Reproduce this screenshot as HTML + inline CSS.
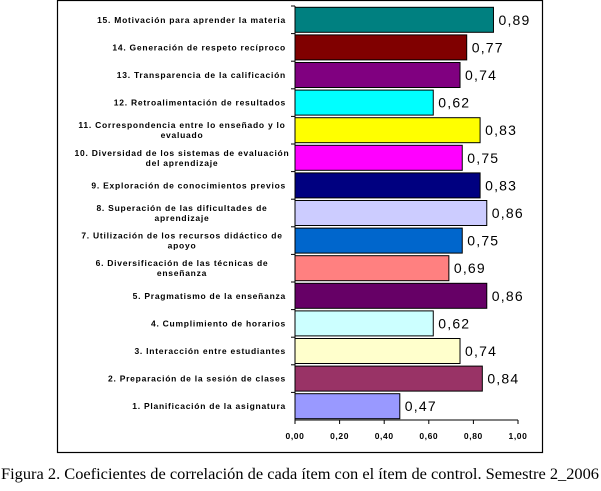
<!DOCTYPE html>
<html><head><meta charset="utf-8"><style>
body{margin:0;background:#fff;width:601px;height:486px;overflow:hidden}
</style></head><body>
<svg width="601" height="486" xmlns="http://www.w3.org/2000/svg" font-family="Liberation Sans, sans-serif">
<rect x="57.5" y="0.5" width="485" height="452" fill="none" stroke="#000" stroke-width="1.2"/>
<g id="bars"></g>
<line x1="295" y1="6" x2="295" y2="420" stroke="#000"/>
<line x1="295" y1="420" x2="518" y2="420" stroke="#000"/>
<g font-size="8.5" font-weight="bold" text-anchor="middle" letter-spacing="0.6">
<text x="295" y="439">0,00</text><text x="339.6" y="439">0,20</text><text x="384.2" y="439">0,40</text><text x="428.8" y="439">0,60</text><text x="473.4" y="439">0,80</text><text x="518" y="439">1,00</text>
</g>
<g stroke="#000">
<line x1="295" y1="420" x2="295" y2="424"/><line x1="339.6" y1="420" x2="339.6" y2="424"/><line x1="384.2" y1="420" x2="384.2" y2="424"/><line x1="428.8" y1="420" x2="428.8" y2="424"/><line x1="473.4" y1="420" x2="473.4" y2="424"/><line x1="518" y1="420" x2="518" y2="424"/>
</g>
<text x="1" y="479" font-family="Liberation Serif, serif" font-size="15.5" textLength="598" lengthAdjust="spacingAndGlyphs">Figura 2. Coeficientes de correlación de cada ítem con el ítem de control. Semestre 2_2006</text>
</svg>
<script>
var d=[["15. Motivación para aprender la materia",0.89,"#008080"],
["14. Generación de respeto recíproco",0.77,"#800000"],
["13. Transparencia de la calificación",0.74,"#800080"],
["12. Retroalimentación de resultados",0.62,"#00FFFF"],
["11. Correspondencia entre lo enseñado y lo|evaluado",0.83,"#FFFF00"],
["10. Diversidad de los sistemas de evaluación|del aprendizaje",0.75,"#FF00FF"],
["9. Exploración de conocimientos previos",0.83,"#000080"],
["8. Superación de las dificultades de|aprendizaje",0.86,"#CCCCFF"],
["7. Utilización de los recursos didáctico de|apoyo",0.75,"#0066CC"],
["6. Diversificación de las técnicas de|enseñanza",0.69,"#FF8080"],
["5. Pragmatismo de la enseñanza",0.86,"#660066"],
["4. Cumplimiento de horarios",0.62,"#CCFFFF"],
["3. Interacción entre estudiantes",0.74,"#FFFFCC"],
["2. Preparación de la sesión de clases",0.84,"#993366"],
["1. Planificación de la asignatura",0.47,"#9999FF"]];
var g=document.getElementById('bars'),s='',h=27.6;
d.forEach(function(r,i){var c=6+h*(i+0.5),w=r[1]*223;
s+='<rect x="295" y="'+(c-12.5)+'" width="'+w+'" height="25" fill="'+r[2]+'" stroke="#000" stroke-width="1"/>';
s+='<line x1="291" y1="'+(6+h*i)+'" x2="295" y2="'+(6+h*i)+'" stroke="#000"/>';
s+='<text x="'+(295+w+5)+'" y="'+(c+5)+'" font-size="14" letter-spacing="1.2">'+r[1].toFixed(2).replace('.',',')+'</text>';
var L=r[0].split('|');
if(L.length==1)s+='<text x="286" y="'+(c+3)+'" font-size="8.5" font-weight="bold" letter-spacing="0.75" text-anchor="end">'+L[0]+'</text>';
else s+='<text y="'+(c-2)+'" font-size="8.5" font-weight="bold" letter-spacing="0.75" text-anchor="middle"><tspan x="182">'+L[0]+'</tspan><tspan x="182" dy="10">'+L[1]+'</tspan></text>';
});
g.innerHTML=s;
</script>
</body></html>
